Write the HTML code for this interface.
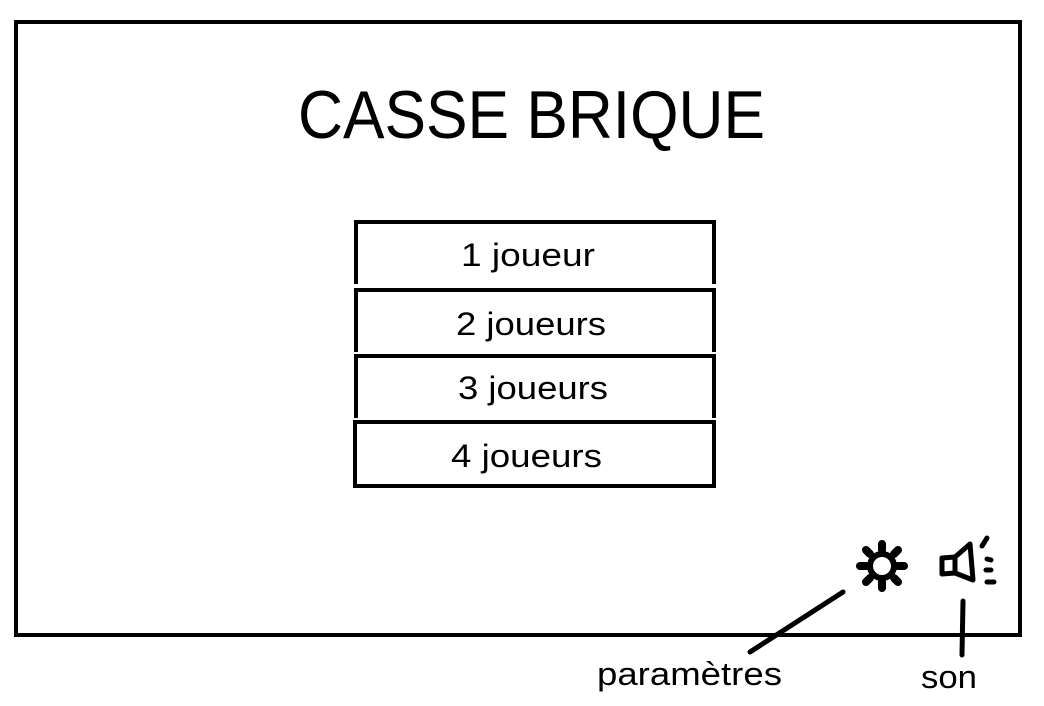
<!DOCTYPE html>
<html><head><meta charset="utf-8"><style>html,body{margin:0;padding:0;background:#fff}svg{display:block}</style></head>
<body>
<svg width="1044" height="706" viewBox="0 0 1044 706" xmlns="http://www.w3.org/2000/svg" font-family="'Liberation Sans', sans-serif">
<rect x="16" y="22" width="1004" height="613" fill="none" stroke="#000" stroke-width="4"/>
<text x="298" y="138" font-size="68" textLength="467" lengthAdjust="spacingAndGlyphs">CASSE BRIQUE</text>
<g fill="none" stroke="#000" stroke-width="4">
<path d="M356 284 V222 H714 V284"/>
<path d="M356 352 V290 H714 V352"/>
<path d="M356 418 V356 H714 V418"/>
<rect x="355" y="422" width="359" height="64"/>
</g>
<g font-size="32">
<text x="461" y="266" textLength="134" lengthAdjust="spacingAndGlyphs">1 joueur</text>
<text x="456" y="335" textLength="150" lengthAdjust="spacingAndGlyphs">2 joueurs</text>
<text x="458" y="399" textLength="150" lengthAdjust="spacingAndGlyphs">3 joueurs</text>
<text x="451" y="467" textLength="151" lengthAdjust="spacingAndGlyphs">4 joueurs</text>
<text x="597" y="685" textLength="185" lengthAdjust="spacingAndGlyphs">paramètres</text>
<text x="921" y="688" textLength="56" lengthAdjust="spacingAndGlyphs">son</text>
</g>
<g stroke="#000" stroke-width="5" stroke-linecap="round" stroke-linejoin="round" fill="none">
<line x1="750" y1="652" x2="843" y2="592"/>
<line x1="963" y1="601" x2="962" y2="655"/>
<circle cx="882" cy="566" r="12" stroke-width="6"/>
<path d="M882 550v-6M882 582v6M866 566h-6M898 566h6M870 554l-4-4M894 554l4-4M870 578l-4 4M894 578l4 4" stroke-width="8"/>
<path d="M942 558 L955 557 L955 573 L942 574 Z M955 557 L970 544 L973 580 L955 573"/>
<path d="M982 546 L987 538 M987 559 L991 560 M986 570 L991 570 M987 582 L994 582"/>
</g>
</svg>
</body></html>
